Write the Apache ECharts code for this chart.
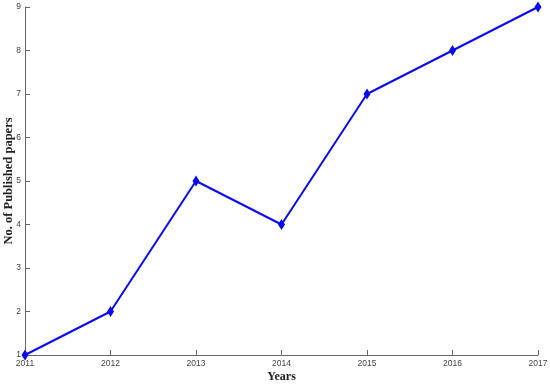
<!DOCTYPE html>
<html>
<head>
<meta charset="utf-8">
<script src="https://cdn.jsdelivr.net/npm/echarts@6/dist/echarts.min.js"></script>
<style>
  html, body { margin: 0; padding: 0; background: #fff; }
  #chart { width: 550px; height: 385px; }
</style>
</head>
<body>
<div id="chart"></div>
<script>
// data
const years = ['2011', '2012', '2013', '2014', '2015', '2016', '2017']
const papers = [1, 2, 5, 4, 7, 8, 9]

const myChart = echarts.init(document.getElementById('chart'))
const option = {
  animation: false,
  grid: { left: 25, right: 12, top: 7, bottom: 30, containLabel: false, outerBoundsMode: 'none' },
  xAxis: {
    type: 'category',
    boundaryGap: false,
    data: years,
    name: 'Years',
    nameLocation: 'middle',
    nameGap: 16,
    nameMoveOverlap: false,
    nameTextStyle: { fontFamily: 'Liberation Serif', fontWeight: 'bold', fontSize: 12, color: '#222' },
    axisLine: { lineStyle: { color: '#666', width: 1 } },
    axisTick: { inside: true, length: 5, lineStyle: { color: '#666' } },
    axisLabel: { color: '#444', fontSize: 8.5, fontFamily: 'Liberation Sans', margin: 4 },
    splitLine: { show: false }
  },
  yAxis: {
    type: 'value',
    min: 1,
    max: 9,
    interval: 1,
    name: 'No. of Published papers',
    nameLocation: 'middle',
    nameGap: 10,
    nameMoveOverlap: false,
    nameTextStyle: { fontFamily: 'Liberation Serif', fontWeight: 'bold', fontSize: 12.5, color: '#222' },
    axisLine: { show: true, lineStyle: { color: '#666', width: 1 } },
    axisTick: { show: true, inside: true, length: 5, lineStyle: { color: '#666' } },
    axisLabel: { color: '#444', fontSize: 8.5, fontFamily: 'Liberation Sans', margin: 4 },
    splitLine: { show: false }
  },
  series: [
    {
      type: 'line',
      data: papers,
      symbol: 'diamond',
      symbolSize: [7, 11],
      lineStyle: { color: '#0a0aee', width: 2 },
      itemStyle: { color: '#0a0aee' }
    }
  ]
}
myChart.setOption(option)
</script>
</body>
</html>
